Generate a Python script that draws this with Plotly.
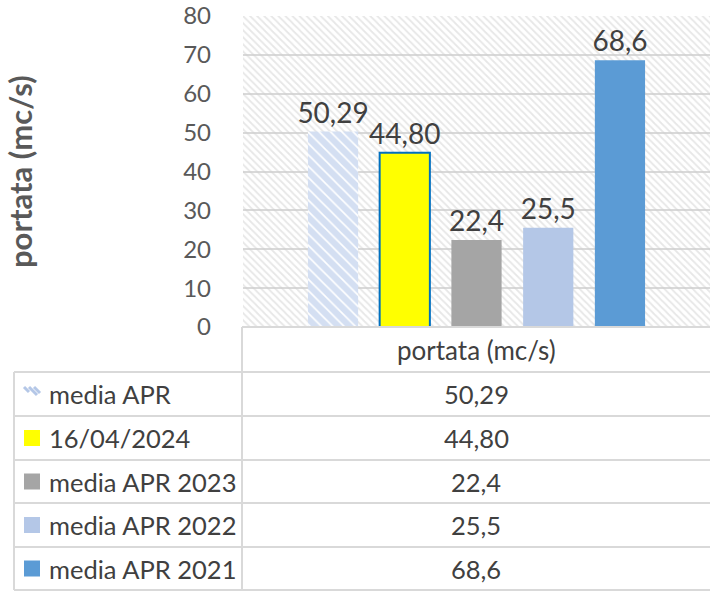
import plotly.graph_objects as go

# ---------------- data ----------------
series_names = ["media APR", "16/04/2024", "media APR 2023", "media APR 2022", "media APR 2021"]
values = [50.29, 44.80, 22.4, 25.5, 68.6]
value_labels = ["50,29", "44,80", "22,4", "25,5", "68,6"]
category = "portata (mc/s)"
y_title = "portata (mc/s)"
y_ticks = [0, 10, 20, 30, 40, 50, 60, 70, 80]

# ---------------- styles ----------------
colors = ["#b4c7e7", "#ffff00", "#a5a5a5", "#b4c7e7", "#5b9bd5"]
FONT = "Lato"
W, H = 710, 592
L, R, T, B = 243, 0, 16, 265
PW, PH = W - L - R, H - T - B
GRID = "#d9d9d9"
YMAX = y_ticks[-1] + 0.001


def px(x):
    return (x - L) / PW


def py(y):
    return (H - B - y) / PH


fig = go.Figure()

# hatched background of the plot area (decoration, main axes, under bars)
fig.add_trace(go.Scatter(
    x=[0, 1, 1, 0, 0], y=[y_ticks[0], y_ticks[0], YMAX, YMAX, y_ticks[0]],
    mode="lines", line=dict(width=0), fill="toself", fillcolor="rgba(0,0,0,0)",
    fillpattern=dict(shape="\\", size=5, solidity=0.35, fgcolor="#cfcfcf",
                     bgcolor="rgba(0,0,0,0)"),
    hoverinfo="skip", showlegend=False, xaxis="x", yaxis="y"))

for i, (name, v, lab, c) in enumerate(zip(series_names, values, value_labels, colors)):
    marker = dict(color=c, line=dict(width=0))
    if i == 0:
        marker = dict(color="white",
                      pattern=dict(shape="\\", fgcolor="#a9c0e6", bgcolor="white", size=8,
                                   solidity=0.8),
                      line=dict(width=0))
    if i == 1:
        marker = dict(color=c, line=dict(color="#0070c0", width=2))
    fig.add_trace(go.Bar(
        x=[category], y=[v], name=name, marker=marker,
        text=[lab], textposition="outside", cliponaxis=False, constraintext="none",
        textfont=dict(family=FONT, size=28, color="#404040"),
        xaxis="x2", yaxis="y2", showlegend=False))

shapes = []
line_style = dict(color=GRID, width=2)
# table horizontal lines
row_edges = [327, 372, 416, 460, 503, 547, 590]
shapes.append(dict(type="line", xref="paper", yref="paper", x0=px(242), x1=px(710),
                   y0=py(row_edges[0]), y1=py(row_edges[0]), line=line_style, layer="above"))
for ye in row_edges[1:]:
    shapes.append(dict(type="line", xref="paper", yref="paper", x0=px(14), x1=px(710),
                       y0=py(ye), y1=py(ye), line=line_style))
# table vertical lines
shapes.append(dict(type="line", xref="paper", yref="paper", x0=px(14), x1=px(14),
                   y0=py(row_edges[1]), y1=py(row_edges[-1]), line=line_style))
shapes.append(dict(type="line", xref="paper", yref="paper", x0=px(242), x1=px(242),
                   y0=py(row_edges[0]), y1=py(row_edges[-1]), line=line_style))

annotations = []
# y axis title
annotations.append(dict(text="<b>" + y_title + "</b>", xref="paper", yref="paper",
                        x=px(20), y=py(172), textangle=-90, showarrow=False,
                        font=dict(family=FONT, size=31, color="#595959"),
                        xanchor="center", yanchor="middle"))
# table header
annotations.append(dict(text=category, xref="paper", yref="paper",
                        x=px(476), y=py((row_edges[0] + row_edges[1]) / 2), showarrow=False,
                        font=dict(family=FONT, size=26, color="#404040"),
                        xanchor="center", yanchor="middle"))

for i, (name, lab, c) in enumerate(zip(series_names, value_labels, colors)):
    cy = (row_edges[i + 1] + row_edges[i + 2]) / 2
    annotations.append(dict(text=name, xref="paper", yref="paper", x=px(47), y=py(cy),
                            showarrow=False, xanchor="left", yanchor="middle",
                            font=dict(family=FONT, size=25.5, color="#404040")))
    annotations.append(dict(text=lab, xref="paper", yref="paper", x=px(476), y=py(cy),
                            showarrow=False, xanchor="center", yanchor="middle",
                            font=dict(family=FONT, size=25.5, color="#404040")))
    if i == 0:
        for (x0, y0, x1, y1) in [(24, cy - 7, 29, cy - 2), (29, cy - 7, 37, cy + 1),
                                 (34, cy - 7, 40, cy - 1)]:
            shapes.append(dict(type="line", xref="paper", yref="paper",
                               x0=px(x0), y0=py(y0), x1=px(x1), y1=py(y1),
                               line=dict(color=c, width=3)))
    else:
        shapes.append(dict(type="rect", xref="paper", yref="paper",
                           x0=px(24), x1=px(40), y0=py(cy - 8), y1=py(cy + 8),
                           fillcolor=c, line=dict(width=0)))

fig.update_layout(
    width=W, height=H,
    margin=dict(l=L, r=R, t=T, b=B, pad=0),
    paper_bgcolor="white", plot_bgcolor="white",
    barmode="group", bargap=0.232, bargroupgap=0.30,
    xaxis=dict(range=[0, 1], visible=False, fixedrange=True),
    yaxis=dict(range=[y_ticks[0], YMAX], tickvals=y_ticks,
               ticktext=[str(t) for t in y_ticks],
               showgrid=True, gridcolor=GRID, gridwidth=2, zeroline=False,
               showline=False, ticks="", ticklabelstandoff=31,
               tickfont=dict(family=FONT, size=24, color="#595959")),
    xaxis2=dict(overlaying="x", type="category", range=[-0.5, 0.5], visible=False),
    yaxis2=dict(overlaying="y", range=[y_ticks[0], YMAX], visible=False),
    shapes=shapes, annotations=annotations,
    showlegend=False,
    font=dict(family=FONT),
)

fig.write_html("out.html", config={"displayModeBar": False},
               post_script="document.body.style.margin='0px';document.body.style.overflow='hidden';")
